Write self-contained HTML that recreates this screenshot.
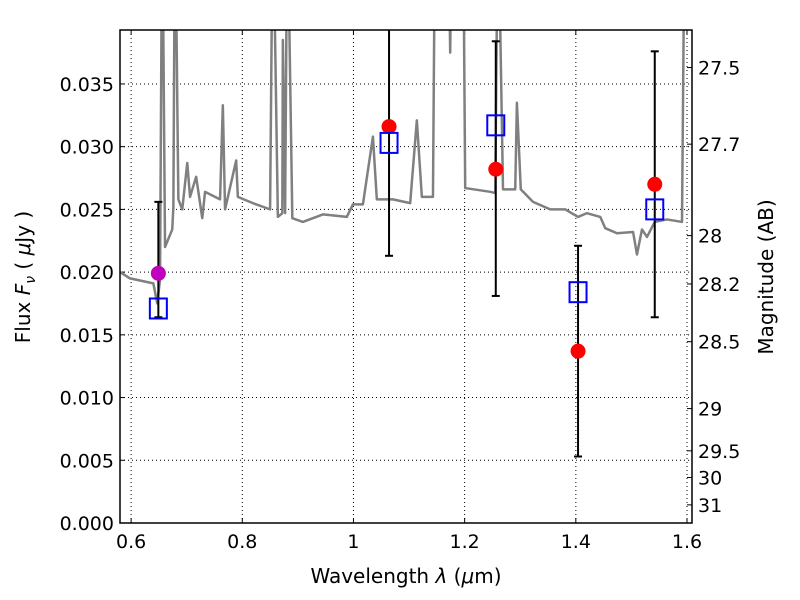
<!DOCTYPE html>
<html><head><meta charset="utf-8"><style>
body{margin:0;background:#fff}
svg{display:block;font-family:"DejaVu Sans","Liberation Sans",sans-serif}
</style></head><body>
<svg id="chart" width="800" height="600"></svg>
<script>
const xTicks=[0.6,0.8,1.0,1.2,1.4,1.6];
const xTickLabels=["0.6","0.8","1","1.2","1.4","1.6"];
const yTicks=[0,0.005,0.01,0.015,0.02,0.025,0.03,0.035];
const yTickLabels=["0.000","0.005","0.010","0.015","0.020","0.025","0.030","0.035"];
const magTicks=[27.5,27.7,28,28.2,28.5,29,29.5,30,31];
const magTickLabels=["27.5","27.7","28","28.2","28.5","29","29.5","30","31"];
const specWave=[0.580,0.598,0.640,0.647,0.652,0.656,0.661,0.674,0.676,0.679,0.685,0.692,0.701,0.706,0.717,0.728,0.733,0.760,0.765,0.769,0.789,0.792,0.819,0.850,0.855,0.864,0.872,0.873,0.877,0.881,0.890,0.909,0.945,0.988,0.999,1.017,1.035,1.042,1.071,1.102,1.114,1.123,1.143,1.147,1.170,1.174,1.177,1.197,1.201,1.246,1.255,1.260,1.269,1.291,1.294,1.301,1.323,1.354,1.381,1.404,1.420,1.444,1.453,1.474,1.503,1.510,1.519,1.528,1.542,1.564,1.591,1.596,1.609];
const specFlux=[.0200,.0195,.0191,.0175,.0194,.05,.0220,.0234,.0252,.05,.0258,.0250,.0287,.0260,.0276,.0243,.0264,.0258,.0333,.0250,.0289,.0260,.0255,.0250,.05,.0244,.0247,.0385,.0247,.05,.0243,.0240,.0246,.0244,.0254,.0254,.0308,.0258,.0258,.0255,.0321,.0260,.0260,.05,.05,.0375,.05,.05,.0267,.0264,.0263,.05,.0266,.0266,.0335,.0266,.0256,.0250,.0250,.0244,.0247,.0244,.0235,.0231,.0232,.0214,.0234,.0228,.0240,.0242,.0240,.05,.05];
const obsWave=[1.064,1.256,1.404,1.542];
const obsFlux=[0.0316,0.0282,0.0137,0.0270];
const magentaWave=[0.649];
const magentaFlux=[0.0199];
const modelWave=[0.649,1.064,1.256,1.404,1.542];
const modelFlux=[0.0171,0.0303,0.0317,0.0184,0.0250];
const errWave=[0.649,1.064,1.256,1.404,1.542];
const errLow=[0.0164,0.0213,0.0181,0.0053,0.0164];
const errHigh=[0.0256,0.0420,0.0384,0.0221,0.0376];

const L=120,T=30,R=692,B=523;
const xMin=0.58,xMax=1.609,yMin=0,yMax=0.0393;
const X=v=>L+(v-xMin)/(xMax-xMin)*(R-L);
const Y=v=>B-(v-yMin)/(yMax-yMin)*(B-T);
const NS="http://www.w3.org/2000/svg";
const svg=document.getElementById('chart');
function mk(tag,attrs,parent){const e=document.createElementNS(NS,tag);for(const k in attrs)e.setAttribute(k,attrs[k]);(parent||svg).appendChild(e);return e;}
const defs=mk('defs',{});
const cp=mk('clipPath',{id:'clip'},defs);mk('rect',{x:L,y:T,width:R-L,height:B-T},cp);

// grid
xTicks.forEach((t,i)=>{const x=X(t);
 const g=mk('line',{x1:x,x2:x,y1:T,y2:B,stroke:'#000','stroke-width':1,'stroke-dasharray':'1,3'});
 
 
 mk('line',{x1:x,x2:x,y1:B,y2:B-5,stroke:'#000'});mk('line',{x1:x,x2:x,y1:T,y2:T+5,stroke:'#000'});
 const tx=mk('text',{x:x,y:B+25,'font-size':19,'text-anchor':'middle'});tx.textContent=xTickLabels[i];
 
 
});
yTicks.forEach((t,i)=>{const y=Y(t);
 const g=mk('line',{x1:L,x2:R,y1:y,y2:y,stroke:'#000','stroke-width':1,'stroke-dasharray':'1,3'});
 
 
 mk('line',{x1:L,x2:L+5,y1:y,y2:y,stroke:'#000'});
 const tx=mk('text',{x:L-6,y:y+7,'font-size':19,'text-anchor':'end'});tx.textContent=yTickLabels[i];
 
 
});
magTicks.forEach((m,i)=>{const f=Math.pow(10,(23.9-m)/2.5);const y=Y(f);
 mk('line',{x1:R,x2:R-5,y1:y,y2:y,stroke:'#000'});
 const tx=mk('text',{x:R+6,y:y+7,'font-size':19});tx.textContent=magTickLabels[i];
 
 
});

// spectrum
const gp=mk('g',{'clip-path':'url(#clip)'});
const sp=mk('polyline',{points:specWave.map((w,i)=>X(w)+','+Y(specFlux[i])).join(' '),fill:'none',stroke:'#808080','stroke-width':2.5,'stroke-linejoin':'round'},gp);



// error bars
errWave.forEach((w,i)=>{const x=X(w),y1=Y(errLow[i]),y2=Y(errHigh[i]);
 const e=mk('line',{x1:x,x2:x,y1:y1,y2:y2,stroke:'#000','stroke-width':2},gp);
 
 
 mk('line',{x1:x-4,x2:x+4,y1:y1,y2:y1,stroke:'#000','stroke-width':2},gp);
 mk('line',{x1:x-4,x2:x+4,y1:y2,y2:y2,stroke:'#000','stroke-width':2},gp);
});
obsWave.forEach((w,i)=>{const c=mk('circle',{cx:X(w),cy:Y(obsFlux[i]),r:7.5,fill:'#ff0000'});
 
 });
magentaWave.forEach((w,i)=>{const c=mk('circle',{cx:X(w),cy:Y(magentaFlux[i]),r:7.5,fill:'#bf00bf'});
 
 });
modelWave.forEach((w,i)=>{const s=mk('rect',{x:X(w)-8.5,y:Y(modelFlux[i])-10,width:17,height:20,fill:'none',stroke:'#0000ff','stroke-width':2});
 
 });

const fr=mk('rect',{x:L,y:T,width:R-L,height:B-T,fill:'none',stroke:'#000','stroke-width':1.5});



const xl=mk('text',{x:406,y:583,'font-size':20,'text-anchor':'middle'});
xl.innerHTML='Wavelength  <tspan font-style="italic">λ</tspan> (<tspan font-style="italic">μ</tspan>m)';


const yl=mk('text',{x:0,y:0,'font-size':20,'text-anchor':'middle',transform:'translate(30,277) rotate(-90)'});
yl.innerHTML='Flux  <tspan font-style="italic">F</tspan><tspan font-style="italic" font-size="14" dy="5">ν</tspan><tspan dy="-5">  ( </tspan><tspan font-style="italic">μ</tspan>Jy )';


const ml=mk('text',{x:0,y:0,'font-size':20,'text-anchor':'middle',transform:'translate(773,277) rotate(-90)'});
ml.textContent='Magnitude (AB)';


</script>
</body></html>
